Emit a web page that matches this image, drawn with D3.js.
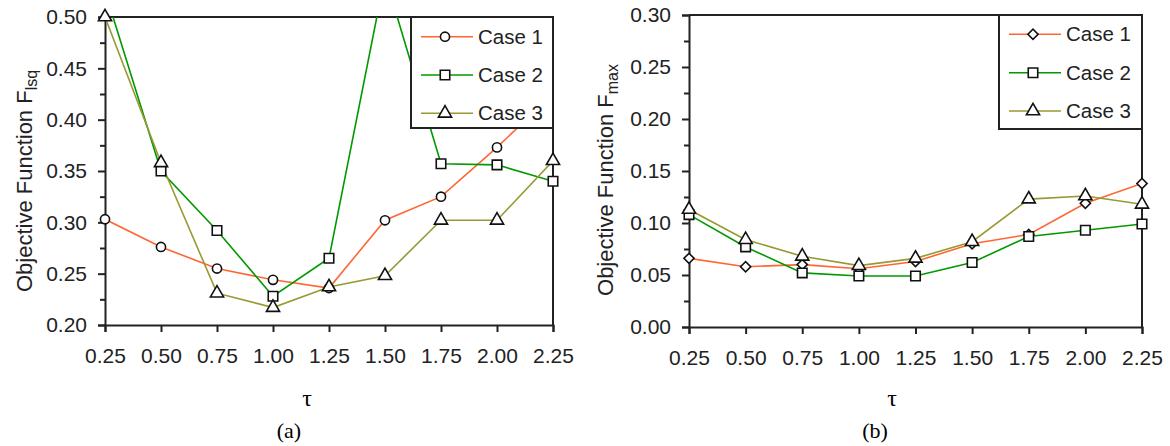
<!DOCTYPE html>
<html>
<head>
<meta charset="utf-8">
<script src="https://cdn.jsdelivr.net/npm/d3@7"></script>
<style>
  html, body { margin: 0; padding: 0; background: #fff; }
  svg { display: block; }
</style>
</head>
<body>
<svg id="chart" width="1170" height="446"></svg>
<script>
const tau = [0.25, 0.50, 0.75, 1.00, 1.25, 1.50, 1.75, 2.00, 2.25];
const xTickLabels = ["0.25", "0.50", "0.75", "1.00", "1.25", "1.50", "1.75", "2.00", "2.25"];
const seriesNames = ["Case 1", "Case 2", "Case 3"];

// (a) Objective Function F_lsq
const lsqCase1 = [0.303, 0.276, 0.255, 0.244, 0.236, 0.302, 0.325, 0.373, 0.425];
const lsqCase2 = [0.525, 0.350, 0.292, 0.228, 0.265, 0.540, 0.357, 0.356, 0.340];
const lsqCase3 = [0.500, 0.358, 0.231, 0.217, 0.237, 0.248, 0.302, 0.302, 0.360];
const lsqYTicks = ["0.20", "0.25", "0.30", "0.35", "0.40", "0.45", "0.50"];

// (b) Objective Function F_max
const maxCase1 = [0.066, 0.058, 0.060, 0.056, 0.063, 0.080, 0.089, 0.119, 0.138];
const maxCase2 = [0.108, 0.077, 0.052, 0.049, 0.049, 0.062, 0.087, 0.093, 0.099];
const maxCase3 = [0.113, 0.084, 0.068, 0.059, 0.066, 0.082, 0.123, 0.126, 0.118];
const maxYTicks = ["0.00", "0.05", "0.10", "0.15", "0.20", "0.25", "0.30"];

const colors = ["#ff6633", "#009900", "#999933"];
const svg = d3.select("#chart");

function drawChart(cfg) {
  const g = svg.append("g");
  const x = d3.scaleLinear().domain([0.25, 2.25]).range([cfg.left, cfg.right]);
  const y = d3.scaleLinear().domain(cfg.yDomain).range([cfg.bottom, cfg.top]);
  const clipId = "clip" + cfg.id;
  svg.append("clipPath").attr("id", clipId).append("rect")
    .attr("x", cfg.left).attr("y", cfg.top)
    .attr("width", cfg.right - cfg.left).attr("height", cfg.bottom - cfg.top);

  // frame (top and right)
  g.append("path")
    .attr("d", `M${cfg.left},${cfg.top}H${cfg.right}V${cfg.bottom}`)
    .attr("fill", "none").attr("stroke", "#222").attr("stroke-width", 2);

  // y axis
  const yTickVals = cfg.yTicks.map(Number);
  const yAxis = d3.axisLeft(y).tickValues(yTickVals).tickFormat((d, i) => cfg.yTicks[i])
    .tickSize(7).tickPadding(11);
  const ya = g.append("g").attr("transform", `translate(${cfg.left},0)`).call(yAxis);
  const minor = [];
  for (let i = 0; i < yTickVals.length - 1; i++) minor.push((yTickVals[i] + yTickVals[i + 1]) / 2);
  g.append("g").attr("transform", `translate(${cfg.left},0)`)
    .call(d3.axisLeft(y).tickValues(minor).tickFormat("").tickSize(5))
    .select(".domain").remove();

  // x axis
  const xAxis = d3.axisBottom(x).tickValues(tau).tickFormat((d, i) => xTickLabels[i])
    .tickSize(7).tickPadding(16);
  const xa = g.append("g").attr("transform", `translate(0,${cfg.bottom})`).call(xAxis);

  [ya, xa].forEach(a => {
    a.select(".domain").attr("stroke", "#222").attr("stroke-width", 2);
    a.selectAll(".tick text").attr("font-family", "Liberation Sans, Arial, sans-serif")
      .attr("font-size", 21).attr("fill", "#222");
  });
  g.selectAll(".tick line").attr("stroke", "#222").attr("stroke-width", 2);

  // y axis title
  const yt = g.append("text")
    .attr("transform", `translate(${cfg.titleX},${cfg.titleY}) rotate(-90)`)
    .attr("text-anchor", "middle")
    .attr("font-family", "Liberation Sans, Arial, sans-serif")
    .attr("font-size", 22).attr("fill", "#222");
  yt.append("tspan").text("Objective Function F");
  yt.append("tspan").attr("font-size", 16).attr("dy", 5).text(cfg.sub);

  // series
  const lineGen = d3.line().x((d, i) => x(tau[i])).y(d => y(d));
  cfg.series.forEach((vals, s) => {
    g.append("path").datum(vals)
      .attr("d", lineGen)
      .attr("fill", "none").attr("stroke", colors[s]).attr("stroke-width", 1.6)
      .attr("clip-path", `url(#${clipId})`);
  });
  cfg.series.forEach((vals, s) => {
    const sym = d3.symbol().type(cfg.symbols[s]).size(cfg.symSizes[s]);
    const rot = cfg.rotations[s];
    const pts = vals.map((v, i) => [i, v]).filter(d => d[1] <= cfg.yDomain[1] + 0.005);
    g.selectAll(null).data(pts)
      .enter().append("path")
      .attr("d", sym)
      .attr("transform", d => `translate(${x(tau[d[0]])},${y(d[1])}) rotate(${rot})`)
      .attr("fill", "#fff").attr("stroke", "#111").attr("stroke-width", 1.6);
  });

  // legend
  const lg = g.append("g");
  lg.append("rect").attr("x", cfg.legend.x).attr("y", cfg.top - 1)
    .attr("width", cfg.right - cfg.legend.x + 8).attr("height", cfg.legend.h + 2)
    .attr("fill", "#fff").attr("stroke", "none");
  lg.append("rect").attr("x", cfg.legend.x).attr("y", cfg.top)
    .attr("width", cfg.right - cfg.legend.x).attr("height", cfg.legend.h)
    .attr("fill", "#fff").attr("stroke", "#222").attr("stroke-width", 2);
  seriesNames.forEach((name, s) => {
    const ry = cfg.legend.rows[s];
    lg.append("line").attr("x1", cfg.legend.x + 10).attr("x2", cfg.legend.x + 62)
      .attr("y1", ry).attr("y2", ry).attr("stroke", colors[s]).attr("stroke-width", 1.6);
    lg.append("path").attr("d", d3.symbol().type(cfg.symbols[s]).size(cfg.symSizes[s]))
      .attr("transform", `translate(${cfg.legend.x + 34},${ry}) rotate(${cfg.rotations[s]})`)
      .attr("fill", "#fff").attr("stroke", "#111").attr("stroke-width", 1.6);
    lg.append("text").attr("x", cfg.legend.x + 67).attr("y", ry)
      .attr("dy", "0.35em")
      .attr("font-family", "Liberation Sans, Arial, sans-serif")
      .attr("font-size", 20.5).attr("fill", "#222").text(name);
  });

  // tau label and caption
  g.append("text").attr("x", cfg.tauX).attr("y", 406).attr("text-anchor", "middle")
    .attr("font-family", "Liberation Serif, Times New Roman, serif")
    .attr("font-size", 24).attr("fill", "#000").text("τ");
  g.append("text").attr("x", cfg.capX).attr("y", 438).attr("text-anchor", "middle")
    .attr("font-family", "Liberation Serif, Times New Roman, serif")
    .attr("font-size", 22).attr("fill", "#000").text(cfg.caption);
}

drawChart({
  id: "a", left: 105, right: 553, top: 17, bottom: 325,
  yDomain: [0.20, 0.50], yTicks: lsqYTicks, sub: "lsq",
  titleX: 32, titleY: 181,
  series: [lsqCase1, lsqCase2, lsqCase3],
  symbols: [d3.symbolCircle, d3.symbolSquare, d3.symbolTriangle],
  symSizes: [66, 90, 75],
  rotations: [0, 0, 0],
  legend: { x: 411, h: 111, rows: [36.7, 75, 113.3] },
  tauX: 307, capX: 289, caption: "(a)"
});

drawChart({
  id: "b", left: 689, right: 1142, top: 15, bottom: 327,
  yDomain: [0.00, 0.30], yTicks: maxYTicks, sub: "max",
  titleX: 613, titleY: 180,
  series: [maxCase1, maxCase2, maxCase3],
  symbols: [d3.symbolSquare, d3.symbolSquare, d3.symbolTriangle],
  symSizes: [52, 90, 75],
  rotations: [45, 0, 0],
  legend: { x: 999, h: 114, rows: [34.3, 72.7, 111] },
  tauX: 892, capX: 875, caption: "(b)"
});
</script>
</body>
</html>
